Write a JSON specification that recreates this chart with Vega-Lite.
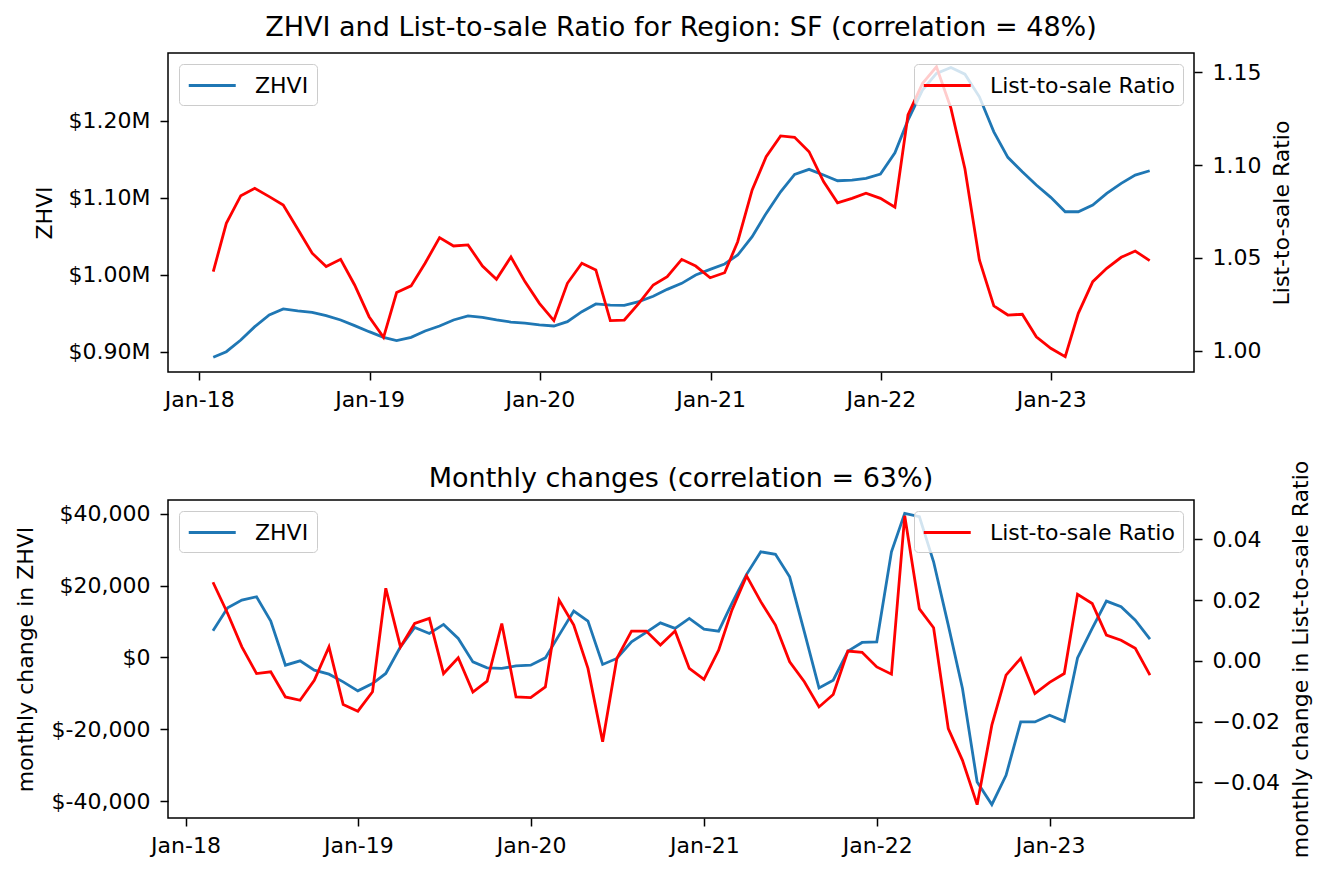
{
  "$schema": "https://vega.github.io/schema/vega-lite/v6.json",
  "autosize": {"type": "none"},
  "padding": {"left": 168, "top": 53, "right": 1162, "bottom": 822},
  "background": "white",
  "config": {
    "font": "DejaVu Sans",
    "view": {"stroke": "black", "strokeWidth": 1.5},
    "axis": {"domain": false, "grid": false, "ticks": true, "tickColor": "black", "tickWidth": 1.5, "tickSize": 8,
      "labelFont": "DejaVu Sans", "labelFontSize": 22, "labelColor": "black", "labelPadding": 10,
      "titleFont": "DejaVu Sans", "titleFontSize": 22, "titleFontWeight": "normal", "titleColor": "black",
      "labelFlush": false, "labelOverlap": false},
    "legend": {"title": null, "offset": 11, "symbolType": "M-1,0H3", "symbolSize": 552, "symbolStrokeWidth": 2.8,
      "labelFont": "DejaVu Sans", "labelFontSize": 22, "labelColor": "black", "labelOffset": 41, "labelLimit": 500, "padding": 8,
      "fillColor": "rgba(255,255,255,0.8)", "strokeColor": "#cccccc", "cornerRadius": 4},
    "title": {"font": "DejaVu Sans", "fontSize": 27, "fontWeight": "normal", "color": "black", "frame": "group", "anchor": "middle", "baseline": "alphabetic"}
  },
  "data": {"values": [
    {"date":"2018-01-31","zhvi":892700,"ratio":1.0426,"dzhvi":null,"dratio":null},
    {"date":"2018-02-28","zhvi":900000,"ratio":1.0686,"dzhvi":7415,"dratio":0.0259},
    {"date":"2018-03-31","zhvi":915200,"ratio":1.0835,"dzhvi":13830,"dratio":0.0156},
    {"date":"2018-04-30","zhvi":932500,"ratio":1.0875,"dzhvi":15970,"dratio":0.0046},
    {"date":"2018-05-31","zhvi":947700,"ratio":1.0830,"dzhvi":16890,"dratio":-0.0042},
    {"date":"2018-06-30","zhvi":955500,"ratio":1.0785,"dzhvi":10117,"dratio":-0.0036},
    {"date":"2018-07-31","zhvi":953000,"ratio":1.0656,"dzhvi":-2146,"dratio":-0.0119},
    {"date":"2018-08-31","zhvi":951100,"ratio":1.0525,"dzhvi":-930,"dratio":-0.0130},
    {"date":"2018-09-30","zhvi":946800,"ratio":1.0453,"dzhvi":-3540,"dratio":-0.0064},
    {"date":"2018-10-31","zhvi":941200,"ratio":1.0492,"dzhvi":-4650,"dratio":0.0046},
    {"date":"2018-11-30","zhvi":933800,"ratio":1.0354,"dzhvi":-6800,"dratio":-0.0144},
    {"date":"2018-12-31","zhvi":926000,"ratio":1.0183,"dzhvi":-9300,"dratio":-0.0166},
    {"date":"2019-01-31","zhvi":918700,"ratio":1.0072,"dzhvi":-7250,"dratio":-0.0102},
    {"date":"2019-02-28","zhvi":914500,"ratio":1.0313,"dzhvi":-4460,"dratio":0.0239},
    {"date":"2019-03-31","zhvi":918700,"ratio":1.0349,"dzhvi":2950,"dratio":0.0046},
    {"date":"2019-04-30","zhvi":926900,"ratio":1.0471,"dzhvi":8360,"dratio":0.0123},
    {"date":"2019-05-31","zhvi":933400,"ratio":1.0609,"dzhvi":6690,"dratio":0.0140},
    {"date":"2019-06-30","zhvi":941200,"ratio":1.0564,"dzhvi":9200,"dratio":-0.0042},
    {"date":"2019-07-31","zhvi":946400,"ratio":1.0570,"dzhvi":5300,"dratio":0.0010},
    {"date":"2019-08-31","zhvi":944700,"ratio":1.0456,"dzhvi":-1230,"dratio":-0.0103},
    {"date":"2019-09-30","zhvi":941200,"ratio":1.0385,"dzhvi":-2900,"dratio":-0.0067},
    {"date":"2019-10-31","zhvi":938500,"ratio":1.0505,"dzhvi":-3066,"dratio":0.0123},
    {"date":"2019-11-30","zhvi":937000,"ratio":1.0372,"dzhvi":-2341,"dratio":-0.0119},
    {"date":"2019-12-31","zhvi":934700,"ratio":1.0255,"dzhvi":-2146,"dratio":-0.0121},
    {"date":"2020-01-31","zhvi":933400,"ratio":1.0162,"dzhvi":-111,"dratio":-0.0086},
    {"date":"2020-02-29","zhvi":939000,"ratio":1.0363,"dzhvi":6215,"dratio":0.0200},
    {"date":"2020-03-31","zhvi":952000,"ratio":1.0471,"dzhvi":12904,"dratio":0.0118},
    {"date":"2020-04-30","zhvi":962000,"ratio":1.0435,"dzhvi":10117,"dratio":-0.0025},
    {"date":"2020-05-31","zhvi":960500,"ratio":1.0162,"dzhvi":-1951,"dratio":-0.0267},
    {"date":"2020-06-30","zhvi":960300,"ratio":1.0165,"dzhvi":-279,"dratio":0.0008},
    {"date":"2020-07-31","zhvi":965000,"ratio":1.0255,"dzhvi":4348,"dratio":0.0098},
    {"date":"2020-08-31","zhvi":972000,"ratio":1.0354,"dzhvi":6968,"dratio":0.0098},
    {"date":"2020-09-30","zhvi":981000,"ratio":1.0399,"dzhvi":9643,"dratio":0.0052},
    {"date":"2020-10-31","zhvi":988800,"ratio":1.0492,"dzhvi":8082,"dratio":0.0098},
    {"date":"2020-11-30","zhvi":999600,"ratio":1.0456,"dzhvi":10869,"dratio":-0.0025},
    {"date":"2020-12-31","zhvi":1007000,"ratio":1.0393,"dzhvi":7887,"dratio":-0.0061},
    {"date":"2021-01-31","zhvi":1013900,"ratio":1.0420,"dzhvi":7330,"dratio":0.0035},
    {"date":"2021-02-28","zhvi":1025600,"ratio":1.0587,"dzhvi":15050,"dratio":0.0167},
    {"date":"2021-03-31","zhvi":1049400,"ratio":1.0866,"dzhvi":23132,"dratio":0.0280},
    {"date":"2021-04-30","zhvi":1079700,"ratio":1.1045,"dzhvi":29431,"dratio":0.0195},
    {"date":"2021-05-31","zhvi":1107800,"ratio":1.1157,"dzhvi":28706,"dratio":0.0118},
    {"date":"2021-06-30","zhvi":1130400,"ratio":1.1150,"dzhvi":22464,"dratio":-0.0003},
    {"date":"2021-07-31","zhvi":1136900,"ratio":1.1072,"dzhvi":7135,"dratio":-0.0069},
    {"date":"2021-08-31","zhvi":1129500,"ratio":1.0911,"dzhvi":-8473,"dratio":-0.0152},
    {"date":"2021-09-30","zhvi":1122100,"ratio":1.0797,"dzhvi":-6327,"dratio":-0.0111},
    {"date":"2021-10-31","zhvi":1123000,"ratio":1.0821,"dzhvi":1756,"dratio":0.0032},
    {"date":"2021-11-30","zhvi":1125200,"ratio":1.0848,"dzhvi":4180,"dratio":0.0028},
    {"date":"2021-12-31","zhvi":1130800,"ratio":1.0821,"dzhvi":4348,"dratio":-0.0020},
    {"date":"2022-01-31","zhvi":1158400,"ratio":1.0773,"dzhvi":29431,"dratio":-0.0044},
    {"date":"2022-02-28","zhvi":1200900,"ratio":1.1270,"dzhvi":40133,"dratio":0.0478},
    {"date":"2022-03-31","zhvi":1239900,"ratio":1.1440,"dzhvi":39204,"dratio":0.0171},
    {"date":"2022-04-30","zhvi":1261500,"ratio":1.1530,"dzhvi":26644,"dratio":0.0109},
    {"date":"2022-05-31","zhvi":1269300,"ratio":1.1307,"dzhvi":9002,"dratio":-0.0223},
    {"date":"2022-06-30","zhvi":1260600,"ratio":1.0980,"dzhvi":-8640,"dratio":-0.0328},
    {"date":"2022-07-31","zhvi":1231200,"ratio":1.0489,"dzhvi":-34670,"dratio":-0.0474},
    {"date":"2022-08-31","zhvi":1185700,"ratio":1.0241,"dzhvi":-40970,"dratio":-0.0212},
    {"date":"2022-09-30","zhvi":1152500,"ratio":1.0192,"dzhvi":-32803,"dratio":-0.0047},
    {"date":"2022-10-31","zhvi":1133800,"ratio":1.0196,"dzhvi":-17948,"dratio":0.0008},
    {"date":"2022-11-30","zhvi":1116500,"ratio":1.0075,"dzhvi":-17948,"dratio":-0.0108},
    {"date":"2022-12-31","zhvi":1100500,"ratio":1.0013,"dzhvi":-16081,"dratio":-0.0071},
    {"date":"2023-01-31","zhvi":1081800,"ratio":0.9968,"dzhvi":-17753,"dratio":-0.0042},
    {"date":"2023-02-28","zhvi":1081800,"ratio":1.0201,"dzhvi":-111,"dratio":0.0219},
    {"date":"2023-03-31","zhvi":1090500,"ratio":1.0372,"dzhvi":8082,"dratio":0.0189},
    {"date":"2023-04-30","zhvi":1105700,"ratio":1.0444,"dzhvi":15691,"dratio":0.0085},
    {"date":"2023-05-31","zhvi":1118700,"ratio":1.0503,"dzhvi":14102,"dratio":0.0068},
    {"date":"2023-06-30","zhvi":1129500,"ratio":1.0537,"dzhvi":10396,"dratio":0.0041},
    {"date":"2023-07-31","zhvi":1135100,"ratio":1.0485,"dzhvi":5100,"dratio":-0.0047}
  ]},
  "spacing": 128,
  "bounds": "flush",
  "vconcat": [
    {
      "width": 1026,
      "height": 319,
      "title": {"text": "ZHVI and List-to-sale Ratio for Region: SF (correlation = 48%)", "offset": 11},
      "layer": [
        {
          "mark": {"type": "line", "strokeWidth": 2.8},
          "encoding": {
            "x": {"field": "date", "type": "temporal",
              "scale": {"domain": [{"year": 2017, "month": 10, "date": 26, "utc": true}, {"year": 2023, "month": 11, "date": 3, "utc": true}]},
              "axis": {"title": null, "labelPadding": 9,
                "values": [{"year": 2018, "month": 1, "date": 1, "utc": true}, {"year": 2019, "month": 1, "date": 1, "utc": true}, {"year": 2020, "month": 1, "date": 1, "utc": true}, {"year": 2021, "month": 1, "date": 1, "utc": true}, {"year": 2022, "month": 1, "date": 1, "utc": true}, {"year": 2023, "month": 1, "date": 1, "utc": true}],
                "labelExpr": "utcFormat(datum.value, '%b-%y')"}},
            "y": {"field": "zhvi", "type": "quantitative",
              "scale": {"domain": [873600, 1288100], "nice": false, "zero": false},
              "axis": {"orient": "left", "title": "ZHVI", "titlePadding": 12, "values": [900000, 1000000, 1100000, 1200000],
                "labelExpr": "'$' + format(datum.value / 1000000, '.2f') + 'M'"}},
            "color": {"datum": "ZHVI", "type": "nominal", "scale": {"domain": ["ZHVI"], "range": ["#1f77b4"]}, "legend": {"orient": "top-left"}}
          }
        },
        {
          "mark": {"type": "line", "strokeWidth": 2.8},
          "encoding": {
            "x": {"field": "date", "type": "temporal"},
            "y": {"field": "ratio", "type": "quantitative",
              "scale": {"domain": [0.9885, 1.1604], "nice": false, "zero": false},
              "axis": {"orient": "right", "title": "List-to-sale Ratio", "titleAngle": 270, "titleBaseline": "top", "titlePadding": 11, "values": [1.0, 1.05, 1.1, 1.15], "format": ".2f"}},
            "color": {"datum": "List-to-sale Ratio", "type": "nominal", "scale": {"domain": ["List-to-sale Ratio"], "range": ["#ff0000"]}, "legend": {"orient": "top-right"}}
          }
        }
      ],
      "resolve": {"scale": {"y": "independent", "color": "independent"}, "legend": {"color": "independent"}}
    },
    {
      "width": 1026,
      "height": 318,
      "title": {"text": "Monthly changes (correlation = 63%)", "offset": -33},
      "transform": [{"filter": "isValid(datum.dzhvi)"}],
      "layer": [
        {
          "mark": {"type": "line", "strokeWidth": 2.8},
          "encoding": {
            "x": {"field": "date", "type": "temporal",
              "scale": {"domain": [{"year": 2017, "month": 11, "date": 25, "utc": true}, {"year": 2023, "month": 11, "date": 1, "utc": true}]},
              "axis": {"title": null, "labelPadding": 9,
                "values": [{"year": 2018, "month": 1, "date": 1, "utc": true}, {"year": 2019, "month": 1, "date": 1, "utc": true}, {"year": 2020, "month": 1, "date": 1, "utc": true}, {"year": 2021, "month": 1, "date": 1, "utc": true}, {"year": 2022, "month": 1, "date": 1, "utc": true}, {"year": 2023, "month": 1, "date": 1, "utc": true}],
                "labelExpr": "utcFormat(datum.value, '%b-%y')"}},
            "y": {"field": "dzhvi", "type": "quantitative",
              "scale": {"domain": [-44700, 43840], "nice": false, "zero": false},
              "axis": {"orient": "left", "title": "monthly change in ZHVI", "titlePadding": 14, "values": [-40000, -20000, 0, 20000, 40000],
                "labelExpr": "datum.value < 0 ? '$-' + format(-datum.value, ',.0f') : '$' + format(datum.value, ',.0f')"}},
            "color": {"datum": "ZHVI", "type": "nominal", "scale": {"domain": ["ZHVI"], "range": ["#1f77b4"]}, "legend": {"orient": "top-left"}}
          }
        },
        {
          "mark": {"type": "line", "strokeWidth": 2.8},
          "encoding": {
            "x": {"field": "date", "type": "temporal"},
            "y": {"field": "dratio", "type": "quantitative",
              "scale": {"domain": [-0.0518, 0.053], "nice": false, "zero": false},
              "axis": {"orient": "right", "title": "monthly change in List-to-sale Ratio", "titleAngle": 270, "titleBaseline": "top", "titlePadding": 11, "values": [-0.04, -0.02, 0, 0.02, 0.04], "format": ".2f"}},
            "color": {"datum": "List-to-sale Ratio", "type": "nominal", "scale": {"domain": ["List-to-sale Ratio"], "range": ["#ff0000"]}, "legend": {"orient": "top-right"}}
          }
        }
      ],
      "resolve": {"scale": {"y": "independent", "color": "independent"}, "legend": {"color": "independent"}}
    }
  ]
}
